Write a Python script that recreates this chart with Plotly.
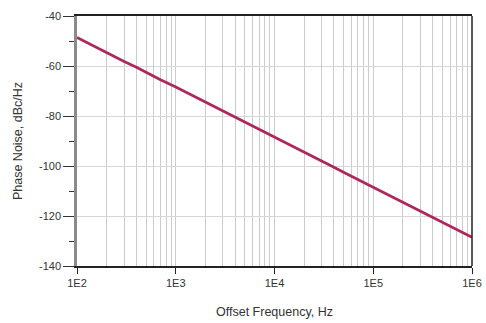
import plotly.graph_objects as go

# Measured single-sideband phase noise versus offset frequency
offset_hz = [100, 150, 200, 300, 400, 500, 700,
             1000, 1500, 2000, 2500, 3000, 4000, 5000, 7000,
             10000, 15000, 20000, 30000, 40000, 50000, 70000,
             100000, 150000, 200000, 300000, 400000, 500000, 700000, 1000000]
phase_noise_dbc = [-48.6, -52.2, -54.7, -58.2, -60.5, -62.6, -65.5,
                   -68.4, -71.9, -74.4, -76.3, -77.9, -80.4, -82.4, -85.4,
                   -88.4, -91.9, -94.4, -98.0, -100.5, -102.5, -105.4,
                   -108.5, -112.0, -114.5, -118.0, -120.6, -122.5, -125.5, -128.5]

x_tick_vals = [100, 1000, 10000, 100000, 1000000]
x_tick_text = ["1E2", "1E3", "1E4", "1E5", "1E6"]
y_tick_vals = [-40, -60, -80, -100, -120, -140]
y_tick_text = ["-40", "-60", "-80", "-100", "-120", "-140"]

fig = go.Figure()
fig.add_trace(go.Scatter(
    x=offset_hz, y=phase_noise_dbc, mode="lines",
    line=dict(color="#B0265A", width=2.6), showlegend=False,
))

font = "Liberation Sans, Arial, sans-serif"

fig.update_layout(
    width=486, height=323,
    margin=dict(l=77, r=14, t=16, b=57, autoexpand=False),
    paper_bgcolor="white", plot_bgcolor="white",
    font=dict(family=font, size=11, color="#333333"),
    xaxis=dict(
        type="log", range=[2, 6], automargin=False,
        tickvals=x_tick_vals, ticktext=x_tick_text,
        ticks="outside", ticklen=6, tickcolor="#222222", tickwidth=1,
        showgrid=True, gridcolor="#cccccc", gridwidth=1.3,
        minor=dict(dtick="D1", showgrid=True, gridcolor="#cccccc",
                   gridwidth=1.3, ticks=""),
        showline=True, linecolor="#222222", linewidth=1.5, mirror=True,
        zeroline=False,
        title=dict(text="Offset Frequency, Hz", font=dict(size=12.5, color="#333333"),
                   standoff=19),
    ),
    yaxis=dict(
        range=[-140, -40], automargin=False,
        tickvals=y_tick_vals, ticktext=y_tick_text,
        ticks="outside", ticklen=11, tickcolor="#333333", tickwidth=1,
        showgrid=True, gridcolor="#d6d6d6", gridwidth=1.3,
        minor=dict(dtick=10, tick0=-40, ticks="outside", ticklen=5,
                   tickcolor="#333333", showgrid=False),
        showline=True, linecolor="#8a8a8a", linewidth=2.5,
        zeroline=False,
        title=dict(text="Phase Noise, dBc/Hz", font=dict(size=12.5, color="#333333"),
                   standoff=14),
    ),
)

# Dark frame edge on the right-hand side of the plot area
fig.add_shape(type="line", xref="paper", yref="paper",
              x0=1, x1=1, y0=0, y1=1,
              line=dict(color="#222222", width=1.5))

fig.write_html("out.html")
